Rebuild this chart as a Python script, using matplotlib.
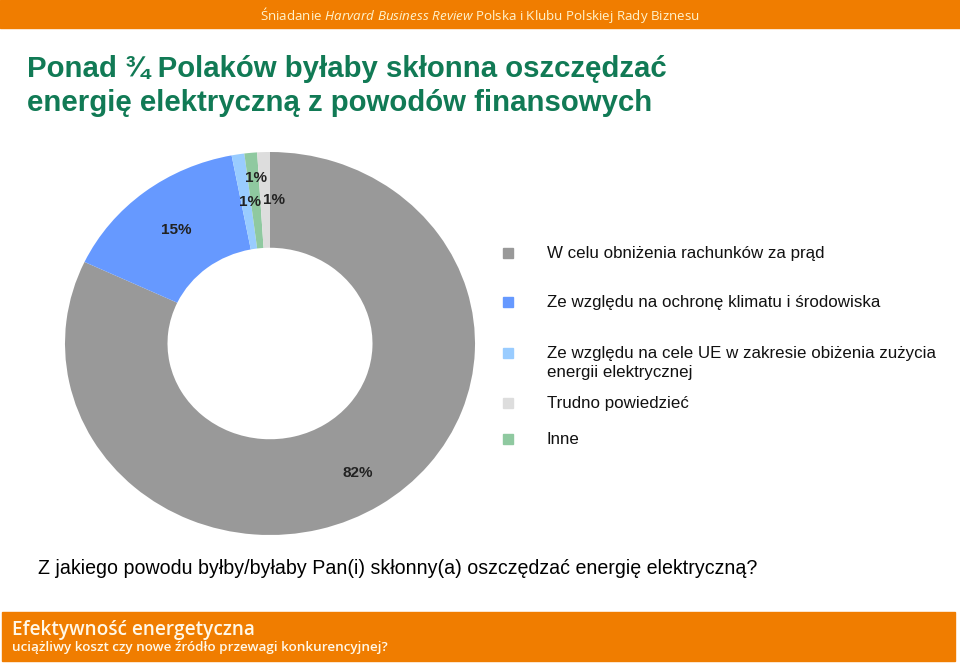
import numpy as np
import matplotlib
matplotlib.use("Agg")
import matplotlib.pyplot as plt
from matplotlib.patches import Rectangle

# dane (kolejnosc na wykresie, zgodnie z ruchem wskazowek zegara od gory)
kategorie = ["W celu obniżenia rachunków za prąd",
             "Ze względu na ochronę klimatu i środowiska",
             "Ze względu na cele UE w zakresie obiżenia zużycia\nenergii elektrycznej",
             "Inne",
             "Trudno powiedzieć"]
wartosci = [82, 15, 1, 1, 1]
kolory = ["#999999", "#6699ff", "#99ccff", "#8fc9a0", "#dddddd"]
# kolejnosc w legendzie
kolejnosc_legendy = [0, 1, 2, 4, 3]

tytul = "Ponad ¾ Polaków byłaby skłonna oszczędzać\nenergię elektryczną z powodów finansowych"
pytanie = "Z jakiego powodu byłby/byłaby Pan(i) skłonny(a) oszczędzać energię elektryczną?"

plt.rcParams['font.family'] = ['Liberation Sans', 'DejaVu Sans']
plt.rcParams['mathtext.fontset'] = 'custom'
plt.rcParams['mathtext.rm'] = 'Open Sans'
plt.rcParams['mathtext.it'] = 'Open Sans:italic'

fig = plt.figure(figsize=(9.6, 6.64), dpi=100)
W, H = 960, 664

def fx(px):
    return px / W

def fy(py):
    return 1 - py / H

# gorny pasek
fig.add_artist(Rectangle((0, fy(28)), 1, 28 / H, transform=fig.transFigure,
                         color="#f07d00", zorder=0))
fig.text(0.5, fy(15), r"Śniadanie $\mathit{Harvard\ Business\ Review}$ Polska i Klubu Polskiej Rady Biznesu",
         ha="center", va="center", color="#fff3cc", fontsize=9.6, family=["Open Sans", "DejaVu Sans"])

# dolny pasek
fig.add_artist(Rectangle((fx(2), fy(661)), fx(953), 49 / H, transform=fig.transFigure,
                         color="#f07d00", zorder=0))
fig.text(fx(12), fy(630), "Efektywność energetyczna", ha="left", va="center",
         color="#fff8e8", fontsize=13.7, fontweight="semibold", family=["Open Sans", "DejaVu Sans"])
fig.text(fx(12), fy(648), "uciążliwy koszt czy nowe źródło przewagi konkurencyjnej?", ha="left", va="center",
         color="#fff8e8", fontsize=9.7, fontweight="semibold", family=["Open Sans", "DejaVu Sans"])

# tytul
fig.text(fx(27), fy(86), tytul, ha="left", va="center", color="#117a55",
         fontsize=21.2, fontweight="bold", linespacing=1.3)

# pytanie
fig.text(fx(38), fy(568), pytanie, ha="left", va="center", color="black", fontsize=14.1)

# wykres pierscieniowy
ax = fig.add_axes([fx(65), fy(535), 410 / W, 383 / H])
wedges, _ = ax.pie(wartosci, colors=kolory, startangle=90, counterclock=False,
                   radius=1.0, wedgeprops=dict(width=0.5, edgecolor="none"))
ax.set_aspect("auto")
ax.set_xlim(-1, 1)
ax.set_ylim(-1, 1)
ax.axis("off")

odleglosci = [0.8, 0.75, 0.75, 0.87, 0.75]
przesuniecia = [0, 0, 3, 2, 6]  # poziome przesuniecie etykiet w punktach
for w, v, r, dx in zip(wedges, wartosci, odleglosci, przesuniecia):
    kat = np.deg2rad((w.theta1 + w.theta2) / 2)
    ax.annotate(f"{v}%", (r * np.cos(kat), r * np.sin(kat)), xytext=(dx, 0),
                textcoords="offset points", ha="center", va="center",
                fontsize=11, fontweight="bold", color="#222222")

# legenda
wiersze_y = [253, 302, 353, 403, 439]
for i, y in zip(kolejnosc_legendy, wiersze_y):
    fig.add_artist(Rectangle((fx(503), fy(y + 5)), 10 / W, 10 / H, transform=fig.transFigure,
                             color=kolory[i]))
    fig.text(fx(547), fy(y - 7), kategorie[i], ha="left", va="top", color="#111111",
             fontsize=12.2, linespacing=1.35)

fig.savefig("out.png", dpi=100)
